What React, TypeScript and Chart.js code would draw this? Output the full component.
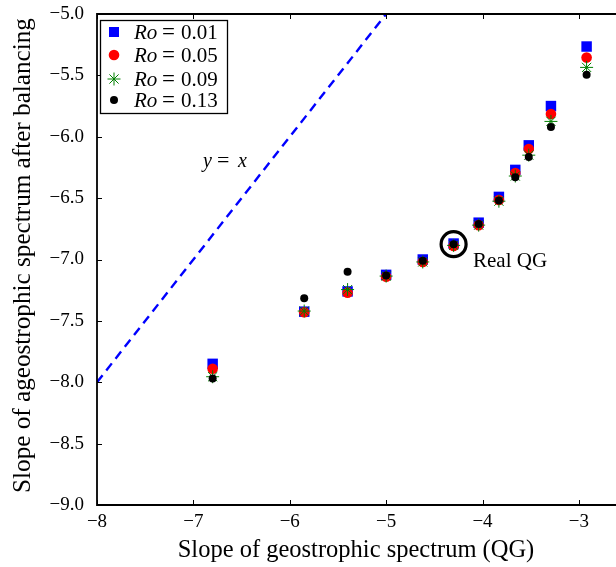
import React, { useEffect, useRef } from "react";
import { Chart, registerables } from "chart.js";

Chart.register(...registerables);

// ---- data ----
const xValues = [-6.8, -5.85, -5.4, -5.0, -4.62, -4.3, -4.04, -3.83, -3.66, -3.52, -3.29, -2.92];
const ro001 = [-7.85, -7.425, -7.26, -7.125, -7.0, -6.87, -6.7, -6.49, -6.27, -6.07, -5.75, -5.265];
const ro005 = [-7.89, -7.43, -7.27, -7.14, -7.02, -6.89, -6.72, -6.515, -6.295, -6.1, -5.815, -5.355];
const ro009 = [-7.955, -7.42, -7.245, -7.135, -7.02, -6.885, -6.72, -6.525, -6.32, -6.15, -5.875, -5.435];
const ro013 = [-7.97, -7.315, -7.1, -7.13, -7.01, -6.875, -6.71, -6.52, -6.33, -6.165, -5.92, -5.495];
const roLabels = ["0.01", "0.05", "0.09", "0.13"];
const identityX = [-8, -5];
const realQGPoint = { x: -4.3, y: -6.875 };
const realQGLabel = "Real QG";
const xTicks = [-8, -7, -6, -5, -4, -3];
const yTicks = [-9, -8.5, -8, -7.5, -7, -6.5, -6, -5.5, -5];
const xTitle = "Slope of geostrophic spectrum (QG)";
const yTitle = "Slope of ageostrophic spectrum after balancing";

const SERIF = "'Liberation Serif', 'Times New Roman', serif";

const toPts = (ys: number[]) => ys.map((y, i) => ({ x: xValues[i], y }));
const minus = (s: string) => s.replace(/-/g, "\u2212");

const overlay = {
  id: "overlay",
  afterDraw(chart: any) {
    const { ctx, chartArea } = chart;
    const { left, top, bottom } = chartArea;
    const W = chart.width;
    const xs = chart.scales.x;
    const ys = chart.scales.y;
    ctx.save();
    // axes lines
    ctx.strokeStyle = "#000";
    ctx.lineWidth = 1.8;
    ctx.beginPath();
    ctx.moveTo(W, top);
    ctx.lineTo(left, top);
    ctx.lineTo(left, bottom);
    ctx.lineTo(W, bottom);
    ctx.stroke();
    ctx.lineWidth = 1;
    ctx.beginPath();
    xTicks.forEach((v) => {
      const px = Math.round(xs.getPixelForValue(v)) + 0.5;
      ctx.moveTo(px, bottom);
      ctx.lineTo(px, bottom - 5);
      ctx.moveTo(px, top);
      ctx.lineTo(px, top + 5);
    });
    yTicks.forEach((v) => {
      const py = Math.round(ys.getPixelForValue(v)) + 0.5;
      ctx.moveTo(left, py);
      ctx.lineTo(left + 5, py);
    });
    ctx.stroke();

    // legend
    const lx = 100, ly = 20, lw = 127, lh = 93;
    ctx.fillStyle = "#fff";
    ctx.fillRect(lx, ly, lw, lh);
    ctx.strokeStyle = "#000";
    ctx.lineWidth = 1.3;
    ctx.strokeRect(lx + 0.5, ly + 0.5, lw, lh);
    const rowsY = [32, 55, 79, 100];
    const mx = 114;
    rowsY.forEach((ry, i) => {
      if (i === 0) {
        ctx.fillStyle = "#0000ff";
        ctx.fillRect(mx - 5, ry - 5, 10, 10);
      } else if (i === 1) {
        ctx.fillStyle = "#ff0000";
        ctx.beginPath();
        ctx.arc(mx, ry, 5.3, 0, Math.PI * 2);
        ctx.fill();
      } else if (i === 2) {
        ctx.strokeStyle = "#008000";
        ctx.lineWidth = 1;
        ctx.beginPath();
        const r = 6.5;
        for (let k = 0; k < 4; k++) {
          const a = (k * Math.PI) / 4;
          ctx.moveTo(mx - r * Math.cos(a), ry - r * Math.sin(a));
          ctx.lineTo(mx + r * Math.cos(a), ry + r * Math.sin(a));
        }
        ctx.stroke();
      } else {
        ctx.fillStyle = "#000";
        ctx.beginPath();
        ctx.arc(mx, ry, 4, 0, Math.PI * 2);
        ctx.fill();
      }
      ctx.fillStyle = "#000";
      ctx.textBaseline = "middle";
      ctx.textAlign = "left";
      ctx.font = `italic 21px ${SERIF}`;
      ctx.fillText("Ro", 134, ry + 1);
      ctx.font = `23px ${SERIF}`;
      ctx.fillText("=", 162, ry + 1);
      ctx.font = `21px ${SERIF}`;
      ctx.fillText(roLabels[i], 181, ry + 1);
    });

    // y = x label
    ctx.textBaseline = "alphabetic";
    ctx.font = `italic 20px ${SERIF}`;
    ctx.fillText("y", 203, 167);
    ctx.font = `22px ${SERIF}`;
    ctx.fillText("=", 217, 167);
    ctx.font = `italic 20px ${SERIF}`;
    ctx.fillText("x", 238, 167);

    // Real QG label
    ctx.font = `21px ${SERIF}`;
    ctx.fillText(realQGLabel, 473, 267);

    // axis titles
    ctx.textAlign = "center";
    ctx.textBaseline = "middle";
    ctx.font = `24.5px ${SERIF}`;
    ctx.fillText(xTitle, 356, 551);
    ctx.font = `25.2px ${SERIF}`;
    ctx.save();
    ctx.translate(23, (top + bottom) / 2 - 4);
    ctx.rotate(-Math.PI / 2);
    ctx.fillText(yTitle, 0, 0);
    ctx.restore();
    ctx.restore();
  },
};

export default function App() {
  const ref = useRef<HTMLCanvasElement | null>(null);
  useEffect(() => {
    document.body.style.margin = "0";
    const canvas = ref.current!;
    const tickFont = { family: SERIF, size: 19 };
    const chart = new Chart(canvas, {
      type: "scatter",
      data: {
        datasets: [
          {
            type: "line",
            label: "y = x",
            data: identityX.map((v) => ({ x: v, y: v })),
            borderColor: "#0000ff",
            borderWidth: 2.4,
            borderDash: [9, 6],
            pointRadius: 0,
            fill: false,
            order: 6,
          } as any,
          {
            label: "Ro = 0.01",
            data: toPts(ro001),
            pointStyle: "rect",
            pointRadius: 7.4,
            backgroundColor: "#0000ff",
            borderColor: "#0000ff",
            borderWidth: 0,
            order: 5,
          },
          {
            label: "Ro = 0.05",
            data: toPts(ro005),
            pointStyle: "circle",
            pointRadius: 5.3,
            backgroundColor: "#ff0000",
            borderColor: "#ff0000",
            borderWidth: 0,
            order: 4,
          },
          {
            label: "Ro = 0.09",
            data: toPts(ro009),
            pointStyle: "star",
            pointRadius: 6.5,
            backgroundColor: "#008000",
            borderColor: "#008000",
            borderWidth: 1,
            order: 3,
          },
          {
            label: "Ro = 0.13",
            data: toPts(ro013),
            pointStyle: "circle",
            pointRadius: 4,
            backgroundColor: "#000",
            borderColor: "#000",
            borderWidth: 0,
            order: 2,
          },
          {
            label: realQGLabel,
            data: [realQGPoint],
            pointStyle: "circle",
            pointRadius: 12.5,
            backgroundColor: "rgba(0,0,0,0)",
            borderColor: "#000",
            borderWidth: 3.2,
            order: 1,
          },
        ],
      },
      options: {
        responsive: false,
        animation: false,
        events: [],
        layout: { autoPadding: false, padding: { top: 14, left: 0, right: 0, bottom: 0 } },
        plugins: { legend: { display: false }, tooltip: { enabled: false } },
        scales: {
          x: {
            type: "linear",
            min: -8,
            max: -2.615,
            afterFit: (s: any) => {
              s.height = 62;
              s.paddingLeft = 0;
              s.paddingRight = 0;
            },
            afterBuildTicks: (s: any) => {
              s.ticks = xTicks.map((v) => ({ value: v }));
            },
            grid: { display: false, drawTicks: false },
            border: { display: false },
            ticks: {
              padding: 6,
              color: "#000",
              font: tickFont,
              maxRotation: 0,
              callback: (v: any) => minus(String(v)),
            },
          },
          y: {
            type: "linear",
            min: -9,
            max: -5,
            afterFit: (s: any) => {
              s.width = 97;
              s.paddingTop = 0;
              s.paddingBottom = 0;
            },
            afterBuildTicks: (s: any) => {
              s.ticks = yTicks.map((v) => ({ value: v }));
            },
            grid: { display: false, drawTicks: false },
            border: { display: false },
            ticks: {
              padding: 13,
              color: "#000",
              font: tickFont,
              callback: (v: any) => minus(Number(v).toFixed(1)),
            },
          },
        },
      },
      plugins: [overlay],
    });
    return () => chart.destroy();
  }, []);
  return (
    <div style={{ width: 616, height: 567, position: "relative", background: "#fff" }}>
      <canvas ref={ref} width={616} height={567} style={{ display: "block" }} />
    </div>
  );
}
